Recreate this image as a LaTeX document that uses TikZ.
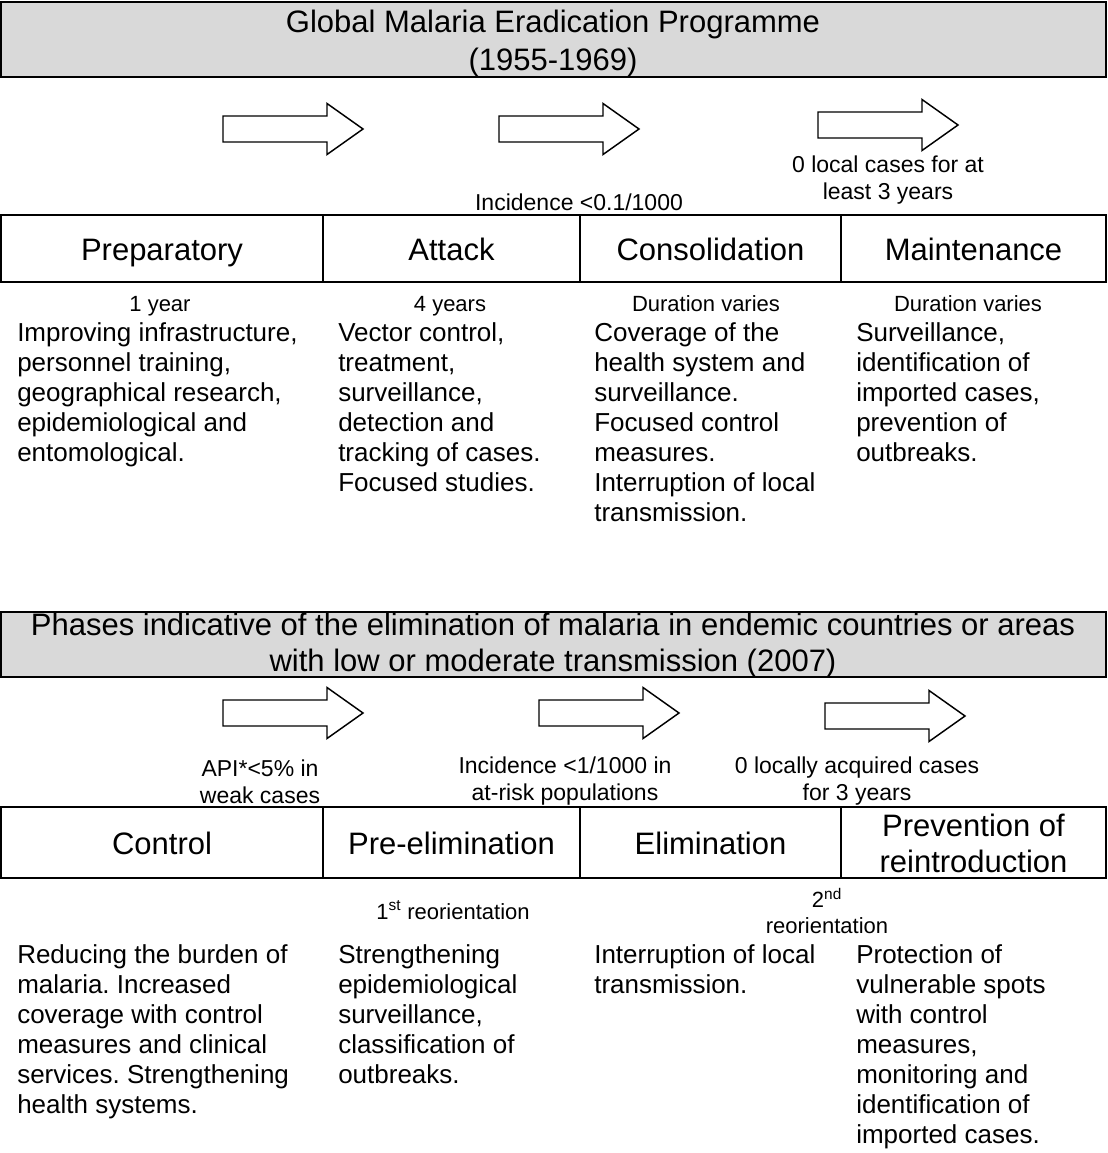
\documentclass[tikz,border=0pt]{standalone}
\usepackage{fontspec}
\setmainfont{Liberation Sans}
\frenchspacing
\definecolor{bannergray}{RGB}{217,217,217}
\newcommand{\phasearrow}[2]{% left end, mid height
  \draw[blockarrow] (#1,#2-13) -- ++(104,0) -- ++(0,-12.5) -- ++(36,25.5)
    -- ++(-36,25.5) -- ++(0,-12.5) -- ++(-104,0) -- cycle;}
\begin{document}
\begin{tikzpicture}[x=0.75pt,y=-0.75pt,
  titletext/.style={font=\fontsize{23.25}{27}\selectfont, align=center, inner sep=0pt},
  phaselabel/.style={font=\fontsize{23.25}{27}\selectfont, align=center, inner sep=0pt, anchor=base},
  crit/.style={font=\fontsize{17.25}{20.25}\selectfont, align=center, inner sep=0pt},
  dur/.style={font=\fontsize{16.5}{19.5}\selectfont, align=center, inner sep=0pt},
  desc/.style={font=\fontsize{19.5}{22.5}\selectfont, align=left, anchor=north west, inner sep=0pt},
  blockarrow/.style={draw, line width=1.1pt, line join=miter}]
\useasboundingbox (0,0) rectangle (1107,1153);

% Programa global
\draw[line width=1.5pt, fill=bannergray] (1,2) rectangle (1106,77);
\node[titletext] (gmep) at (553,43) {Global Malaria Eradication Programme\\[1.5pt](1955-1969)};

\phasearrow{223}{129}
\phasearrow{499}{129}
\phasearrow{818}{125}

\node[crit] (inc1) at (579,202) {Incidence <0.1/1000};
\node[crit] (zero1) at (888,180) {0 local cases for at\\least 3 years};

\draw[line width=1.5pt] (1,215) rectangle (1106,282);
\foreach \x in {323,580,841}
  \draw[line width=1.1pt] (\x,215) -- (\x,282);
\node[phaselabel] (prep) at (162,260) {Preparatory};
\node[phaselabel] (attack) at (451.5,260) {Attack};
\node[phaselabel] (consol) at (710.5,260) {Consolidation};
\node[phaselabel] (maint) at (973.5,260) {Maintenance};

\node[dur, anchor=base] (prepdur) at (160,311) {1 year};
\node[dur, anchor=base] (attackdur) at (450,311) {4 years};
\node[dur, anchor=base] (consoldur) at (706,311) {Duration varies};
\node[dur, anchor=base] (maintdur) at (968,311) {Duration varies};

\node[desc] (prepdesc) at (17,322) {Improving infrastructure,\\personnel training,\\geographical research,\\epidemiological and\\entomological.};
\node[desc] (attackdesc) at (338,322) {Vector control,\\treatment,\\surveillance,\\detection and\\tracking of cases.\\Focused studies.};
\node[desc] (consoldesc) at (594,322) {Coverage of the\\health system and\\surveillance.\\Focused control\\measures.\\Interruption of local\\transmission.};
\node[desc] (maintdesc) at (856,322) {Surveillance,\\identification of\\imported cases,\\prevention of\\outbreaks.};

% Fases de eliminacion
\draw[line width=1.5pt, fill=bannergray] (1,612) rectangle (1106,677);
\node[titletext] (elimphases) at (553,645.5) {Phases indicative of the elimination of malaria in endemic countries or areas\\with low or moderate transmission (2007)};

\phasearrow{223}{713}
\phasearrow{539}{713}
\phasearrow{825}{716}

\node[crit] (api) at (260,781.5) {API*<5\% in\\weak cases};
\node[crit] (inc2) at (565,781) {Incidence <1/1000 in\\at-risk populations};
\node[crit] (zero2) at (857,781) {0 locally acquired cases\\for 3 years};

\draw[line width=1.5pt] (1,807) rectangle (1106,878);
\foreach \x in {323,580,841}
  \draw[line width=1.1pt] (\x,807) -- (\x,878);
\node[phaselabel] (control) at (162,854.5) {Control};
\node[phaselabel] (preelim) at (451.5,854.5) {Pre-elimination};
\node[phaselabel] (elim) at (710.5,854.5) {Elimination};
\node[phaselabel, anchor=center] (prevent) at (973.5,843.5) {Prevention of\\reintroduction};

\node[dur] (reor1) at (453,910) {1\textsuperscript{st} reorientation};
\node[dur] (reor2) at (827,911) {2\textsuperscript{nd}\\reorientation};

\node[desc] (controldesc) at (17,944) {Reducing the burden of\\malaria. Increased\\coverage with control\\measures and clinical\\services. Strengthening\\health systems.};
\node[desc] (preelimdesc) at (338,944) {Strengthening\\epidemiological\\surveillance,\\classification of\\outbreaks.};
\node[desc] (elimdesc) at (594,944) {Interruption of local\\transmission.};
\node[desc] (preventdesc) at (856,944) {Protection of\\vulnerable spots\\with control\\measures,\\monitoring and\\identification of\\imported cases.};
\end{tikzpicture}
\end{document}
